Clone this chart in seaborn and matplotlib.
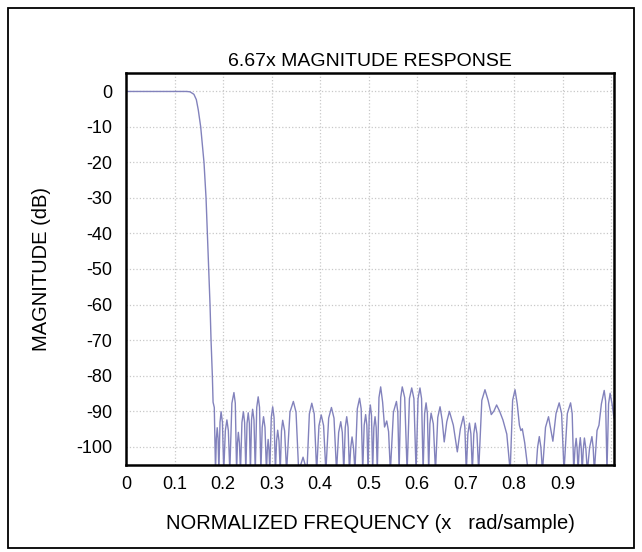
import matplotlib
matplotlib.use("Agg")
import matplotlib.pyplot as plt
import seaborn as sns
import pandas as pd
from matplotlib.patches import Rectangle

# ---- data (normalized frequency, dB) ----
pass_freq = [0.0, 0.05, 0.10, 0.125, 0.132, 0.140, 0.145, 0.149, 0.154, 0.1575,
             0.1608, 0.165, 0.1677, 0.1705, 0.1732, 0.1753, 0.178, 0.1795, 0.182]
pass_db = [0.0, 0.0, 0.0, 0.0, -0.1, -0.8, -2.3, -5.2, -10.0, -15.0,
           -20.0, -30.0, -40.0, -50.0, -60.0, -70.0, -80.0, -87.5, -89.0]

# stopband ripple: nulls, lobe shoulders and lobe peaks, in order of frequency
stop_freq = [
    0.1845, 0.1863, 0.188, 0.1898, 0.1915, 0.1938, 0.196, 0.1988, 0.2015,
    0.2048, 0.208, 0.211, 0.214, 0.2183, 0.2225, 0.2253, 0.228, 0.2298, 0.2316,
    0.2338, 0.236, 0.239, 0.242, 0.2445, 0.247, 0.2495, 0.252, 0.2543, 0.2565,
    0.2588, 0.261, 0.2638, 0.2665, 0.2695, 0.2725, 0.2753, 0.278, 0.2808, 0.2835,
    0.2865, 0.2895, 0.2913, 0.293, 0.2948, 0.2965, 0.2995, 0.3024, 0.3052, 0.308,
    0.3104, 0.3127, 0.3154, 0.318, 0.3205, 0.323, 0.327, 0.331, 0.338, 0.345,
    0.3505, 0.356, 0.365, 0.373, 0.378, 0.383, 0.388, 0.393, 0.3978, 0.4025,
    0.4073, 0.412, 0.4178, 0.4235, 0.4288, 0.434, 0.4384, 0.4427, 0.4459, 0.449,
    0.452, 0.455, 0.4578, 0.4605, 0.4633, 0.466, 0.469, 0.472, 0.4768, 0.4815,
    0.4848, 0.488, 0.491, 0.494, 0.4965, 0.499, 0.5014, 0.5037, 0.5061, 0.5085,
    0.511, 0.5134, 0.5157, 0.518, 0.5215, 0.525, 0.529, 0.533, 0.5375, 0.5413,
    0.545, 0.5513, 0.5575, 0.5603, 0.563, 0.5663, 0.5695, 0.5745, 0.5795, 0.5843,
    0.589, 0.5935, 0.598, 0.602, 0.606, 0.6093, 0.6125, 0.6156, 0.6186, 0.6213,
    0.624, 0.6265, 0.629, 0.6335, 0.638, 0.6427, 0.6474, 0.6517, 0.656, 0.6613,
    0.6667, 0.6748, 0.683, 0.6893, 0.6955, 0.6985, 0.7015, 0.7048, 0.708, 0.711,
    0.714, 0.717, 0.720, 0.7235, 0.727, 0.7335, 0.740, 0.7465, 0.753, 0.7585,
    0.764, 0.770, 0.777, 0.785, 0.792, 0.797, 0.802, 0.8065, 0.811, 0.814,
    0.817, 0.822, 0.829, 0.845, 0.8485, 0.852, 0.8553, 0.8585, 0.8648, 0.871,
    0.8755, 0.880, 0.8865, 0.893, 0.898, 0.903, 0.9098, 0.9165, 0.9198, 0.923,
    0.9255, 0.928, 0.930, 0.932, 0.9343, 0.9365, 0.9385, 0.9405, 0.9428, 0.945,
    0.948, 0.951, 0.9558, 0.9605, 0.963, 0.9655, 0.971, 0.975, 0.980, 0.9858,
    0.9887, 0.9915, 0.9948, 0.998, 1.002, 1.006]
stop_db = [
    -107, -97.7, -94.7, -97.7, -107, -93.2, -90.2, -93.2, -107,
    -95.5, -92.5, -95.5, -107, -87.8, -84.8, -87.8, -107, -99.0, -96.0,
    -99.0, -107, -93.2, -90.2, -93.2, -107, -93.5, -90.5, -93.5, -107,
    -92.5, -89.5, -92.5, -107, -89.0, -86.0, -89.0, -107, -94.6, -91.6,
    -94.6, -107, -101.0, -98.0, -101.0, -107, -91.8, -88.8, -91.8, -107,
    -98.4, -95.4, -98.4, -107, -95.6, -92.6, -95.6, -107, -90.3, -87.3,
    -90.3, -107, -103.0, -107, -90.8, -87.8, -90.8, -107, -94.1, -91.1,
    -94.1, -107, -92.0, -89.0, -92.0, -107, -96.0, -93.0, -96.0, -107,
    -94.6, -91.6, -94.6, -107, -100.3, -97.3, -100.3, -107, -89.4, -86.4,
    -89.4, -107, -94.0, -91.0, -94.0, -107, -91.3, -88.3, -91.3, -107,
    -94.6, -91.6, -94.6, -107, -86.2, -83.2, -87.5, -94.5, -92.8, -95.8,
    -107, -90.3, -87.3, -90.3, -107, -86.2, -83.2, -86.2, -107, -86.5,
    -83.5, -86.5, -107, -86.5, -83.5, -86.5, -107, -90.7, -87.7, -90.7,
    -107, -93.6, -90.6, -93.6, -107, -91.8, -88.8, -92.5, -98.7, -93.0,
    -90.1, -94.0, -101.5, -95.0, -91.5, -94.5, -107, -96.4, -93.4, -96.4,
    -107, -96.4, -93.4, -96.4, -107, -87.0, -84.0, -87.0, -91.0, -90.0,
    -88.3, -90.0, -92.5, -96.5, -107, -87.0, -84.0, -88.0, -94.0, -95.5,
    -95.0, -99.0, -107, -107, -100.2, -97.2, -100.2, -107, -94.6, -91.6,
    -95.0, -98.5, -90.7, -87.7, -90.7, -107, -90.7, -87.7, -90.7, -107,
    -100.7, -97.7, -100.7, -107, -100.5, -97.5, -100.5, -107, -100.6, -97.6,
    -100.6, -107, -100.2, -97.2, -100.2, -107, -95.5, -94.0, -88.0, -84.2,
    -87.2, -107, -88.0, -85.0, -88.0, -92.0]

x_ticks = [0.0, 0.1, 0.2, 0.3, 0.4, 0.5, 0.6, 0.7, 0.8, 0.9, 1.0]
x_tick_labels = ["0", "0.1", "0.2", "0.3", "0.4", "0.5", "0.6", "0.7", "0.8", "0.9", ""]
y_ticks = [0, -10, -20, -30, -40, -50, -60, -70, -80, -90, -100]
y_tick_labels = ["0", "-10", "-20", "-30", "-40", "-50", "-60", "-70", "-80", "-90", "-100"]

title_text = "6.67x MAGNITUDE RESPONSE"
x_label = "NORMALIZED FREQUENCY (x   rad/sample)"
y_label = "MAGNITUDE (dB)"

df = pd.DataFrame({"freq": pass_freq + stop_freq, "db": pass_db + stop_db})

sns.set_theme(style="white")
plt.rcParams["font.family"] = ["Liberation Sans", "DejaVu Sans"]

fig = plt.figure(figsize=(6.42, 5.52), dpi=100)
ax = fig.add_axes([126 / 642, 1 - 465 / 552, (614 - 126) / 642, (465 - 73) / 552])

sns.lineplot(data=df, x="freq", y="db", ax=ax, sort=False, estimator=None,
             color="#8282bc", linewidth=1.0)

ax.set_xlim(0, 1.006)
ax.set_ylim(-105.2, 5.2)
ax.set_xticks(x_ticks)
ax.set_xticklabels(x_tick_labels)
ax.set_yticks(y_ticks)
ax.set_yticklabels(y_tick_labels)
ax.grid(True, color="#c8c8c8", linestyle=":", linewidth=0.9)
ax.tick_params(axis="both", length=0, labelsize=13, colors="black")
ax.tick_params(axis="x", pad=8)
ax.tick_params(axis="y", pad=10)
for s in ax.spines.values():
    s.set_visible(True)
    s.set_color("black")
    s.set_linewidth(1.8)

ax.set_title(title_text, fontsize=14, color="black", pad=5)
ax.set_xlabel(x_label, fontsize=14.5, color="black", labelpad=15)
ax.set_ylabel(y_label, fontsize=14.5, color="black", labelpad=18)

fig.patches.append(Rectangle((8 / 642, 4 / 552), 626 / 642, 540 / 552,
                             transform=fig.transFigure, fill=False,
                             edgecolor="black", linewidth=1.3))

fig.savefig("out.png", dpi=100)
